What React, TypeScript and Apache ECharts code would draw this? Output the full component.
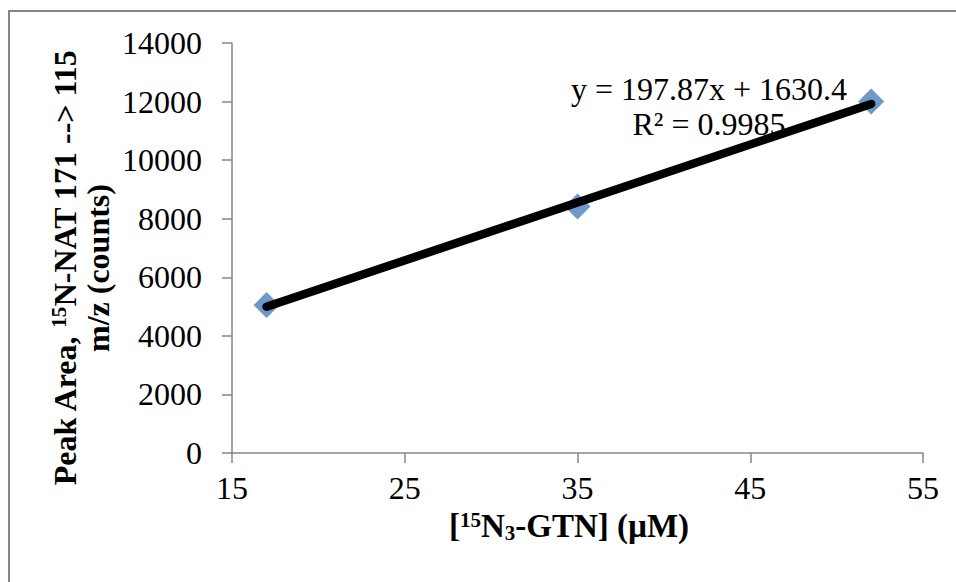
import React, { useEffect, useRef } from "react";
import * as echarts from "echarts";

const xValues = [17, 35, 52];
const yValues = [5050, 8420, 12000];
const slope = 197.87;
const intercept = 1630.4;
const equationLabel = "y = 197.87x + 1630.4";
const r2Label = "R² = 0.9985";
const xTicks = { min: 15, max: 55, interval: 10 };
const yTicks = { min: 0, max: 14000, interval: 2000 };

const FONT = "'Liberation Serif', 'Times New Roman', serif";

export default function App() {
  const ref = useRef<HTMLDivElement>(null);
  useEffect(() => {
    document.body.style.margin = "0";
    const chart = echarts.init(ref.current!, null, { renderer: "svg" });
    const points = xValues.map((x, i) => [x, yValues[i]]);
    const xStart = Math.min(...xValues);
    const xEnd = Math.max(...xValues);
    const trend = [
      [xStart, slope * xStart + intercept],
      [xEnd, slope * xEnd + intercept],
    ];
    const axisLine = { lineStyle: { color: "#868686", width: 1.5 } };
    const tick = { show: true, inside: false, length: 10, lineStyle: { color: "#868686", width: 1.5 } };
    chart.setOption({
      animation: false,
      backgroundColor: "#ffffff",
      grid: { left: 232, top: 43, width: 691, height: 410, containLabel: false },
      xAxis: {
        type: "value",
        min: xTicks.min,
        max: xTicks.max,
        interval: xTicks.interval,
        axisLine: { show: true, onZero: false, ...axisLine },
        axisTick: tick,
        splitLine: { show: false },
        axisLabel: { margin: 20, fontFamily: FONT, fontSize: 32, lineHeight: 30, color: "#000", formatter: (v: number) => String(v) },
      },
      yAxis: {
        type: "value",
        min: yTicks.min,
        max: yTicks.max,
        interval: yTicks.interval,
        axisLine: { show: true, ...axisLine },
        axisTick: tick,
        splitLine: { show: false },
        axisLabel: { margin: 30, fontFamily: FONT, fontSize: 32, color: "#000", formatter: (v: number) => String(v) },
      },
      series: [
        {
          type: "scatter",
          data: points,
          symbol: "diamond",
          symbolSize: [26, 26],
          itemStyle: { color: "#4A7EBB" },
          z: 2,
        },
        {
          type: "line",
          data: trend,
          symbol: "none",
          lineStyle: { color: "#000", width: 8.5, cap: "round" },
          z: 3,
        },
      ],
      graphic: [
        {
          type: "rect",
          shape: { x: 9, y: 11, width: 1000, height: 700 },
          style: { fill: "none", stroke: "#868686", lineWidth: 2 },
          silent: true,
        },
        {
          type: "text",
          x: 709,
          y: 89,
          z: 10,
          style: {
            text: equationLabel,
            font: `32px ${FONT}`,
            fill: "#000",
            align: "center",
            verticalAlign: "middle",
          },
        },
        {
          type: "text",
          x: 709,
          y: 124,
          z: 10,
          style: {
            text: r2Label,
            font: `32px ${FONT}`,
            fill: "#000",
            align: "center",
            verticalAlign: "middle",
          },
        },
        {
          type: "text",
          x: 569,
          y: 526,
          style: {
            text: "{b|[}{sup|15}{b|N}{sub|3}{b|-GTN] (µM)}",
            align: "center",
            verticalAlign: "middle",
            rich: {
              b: { fontFamily: FONT, fontWeight: "bold", fontSize: 33, fill: "#000", lineHeight: 34, verticalAlign: "middle" },
              sup: { fontFamily: FONT, fontWeight: "bold", fontSize: 21, fill: "#000", lineHeight: 20, verticalAlign: "top" },
              sub: { fontFamily: FONT, fontWeight: "bold", fontSize: 21, fill: "#000", lineHeight: 4, verticalAlign: "bottom" },
            },
          },
        },
        {
          type: "text",
          x: 81,
          y: 268,
          rotation: Math.PI / 2,
          style: {
            text: "{b|Peak Area, }{sup|15}{b|N-NAT 171 --> 115}\n{b|m/z (counts)}",
            align: "center",
            verticalAlign: "middle",
            rich: {
              b: { fontFamily: FONT, fontWeight: "bold", fontSize: 32, fill: "#000", lineHeight: 33, verticalAlign: "middle", align: "center" },
              sup: { fontFamily: FONT, fontWeight: "bold", fontSize: 21, fill: "#000", lineHeight: 21, verticalAlign: "top" },
            },
          },
        },
      ],
    });
    return () => chart.dispose();
  }, []);
  return <div ref={ref} style={{ width: 956, height: 582 }} />;
}
